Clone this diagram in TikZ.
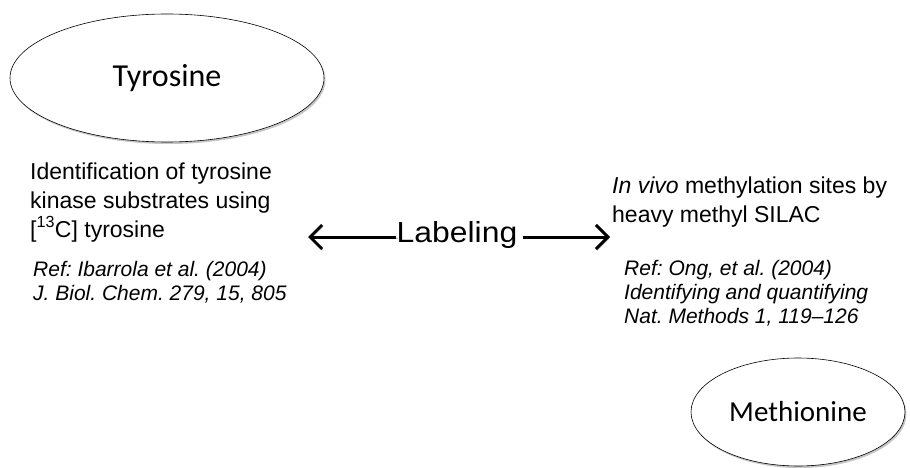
\documentclass[tikz,border=0pt]{standalone}
\usepackage{fontspec}
\setmainfont{Liberation Sans}
\newfontfamily\calib{Carlito}
\newfontfamily\widesans[FakeStretch=1.1]{Liberation Sans}
\frenchspacing
\usepackage{tikz}
\usetikzlibrary{shapes.geometric,shadows,arrows.meta}
\tikzstyle{acid}=[ellipse,draw,fill=white,inner sep=0pt,line width=0.6pt,
  drop shadow={opacity=0.45,shadow xshift=1.5pt,shadow yshift=-2pt}]
\tikzstyle{note}=[anchor=base west,align=left,inner sep=0pt,font=\fontsize{23}{29}\selectfont]
\tikzstyle{ref}=[anchor=base west,align=left,inner sep=0pt,font=\fontsize{21}{24}\selectfont\itshape]
\tikzstyle{arr}=[line width=3pt,-{Straight Barb[length=12pt,width=24pt]},
  preaction={draw,gray!55,transform canvas={shift={(1.2pt,-1.6pt)}}}]

\begin{document}
\begin{tikzpicture}[x=1pt,y=-1pt]
        \useasboundingbox (0,0) rectangle (910,468);
        % amino acids
        \node[acid,minimum width=314pt,minimum height=128pt,font=\calib\fontsize{32}{36}\selectfont] (tyr) at (167,78) {Tyrosine};
        \node[acid,minimum width=214pt,minimum height=108pt,font=\calib\fontsize{29}{32}\selectfont] (met) at (798,412) {Methionine};
        % descriptions (base = last line)
        \node[note] (tyrtxt) at (30,237) {Identification of tyrosine\\kinase substrates using\\{[}\textsuperscript{13}C{]} tyrosine};
        \node[ref] (tyrref) at (33,300) {Ref: Ibarrola et al. (2004)\\J. Biol. Chem. 279, 15, 805};
        \node[note] (mettxt) at (612,222) {\textit{In vivo} methylation sites by\\heavy methyl SILAC};
        \node[ref] (metref) at (624,323) {Ref: Ong, et al. (2004)\\Identifying and quantifying\\Nat. Methods 1, 119--126};
        % labeling
        \node[inner sep=0pt,font=\widesans\fontsize{29}{32}\selectfont] (lab) at (457,235) {Labeling};
        \coordinate (ltip) at (308,237);
        \coordinate (rtip) at (610,237);
        \draw[arr] (lab.west |- ltip) -- (ltip);
        \draw[arr] ([xshift=5pt]lab.east |- rtip) -- (rtip);
\end{tikzpicture}
\end{document}
